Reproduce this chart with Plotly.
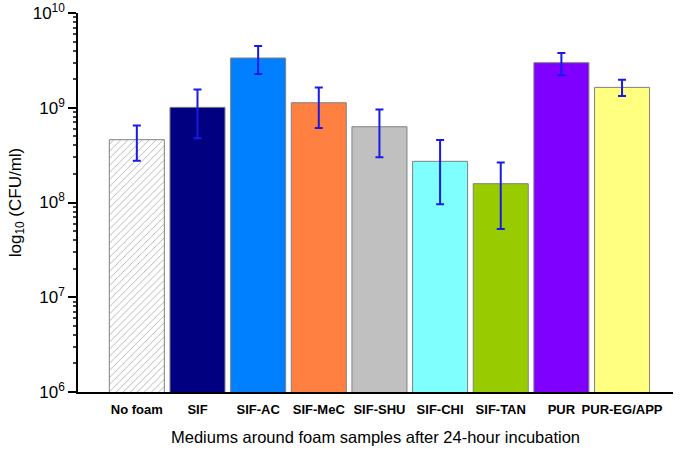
import plotly.graph_objects as go

categories = ["No foam", "SIF", "SIF-AC", "SIF-MeC", "SIF-SHU", "SIF-CHI", "SIF-TAN", "PUR", "PUR-EG/APP"]
cfu_mean = [4.6e8, 1.01e9, 3.35e9, 1.13e9, 6.3e8, 2.72e8, 1.58e8, 2.99e9, 1.64e9]
cfu_upper = [6.5e8, 1.56e9, 4.48e9, 1.64e9, 9.6e8, 4.57e8, 2.65e8, 3.79e9, 1.98e9]
cfu_lower = [2.76e8, 4.76e8, 2.27e9, 6.1e8, 3.0e8, 9.6e7, 5.25e7, 2.2e9, 1.33e9]
bar_colors = ["white", "#000080", "#0080FF", "#FF8040", "#C0C0C0", "#80FFFF", "#99CC00", "#8000FF", "#FFFF80"]
pattern_shapes = ["/", "", "", "", "", "", "", "", ""]
ytick_vals = [1e6, 1e7, 1e8, 1e9, 1e10]
ytick_text = ["10<sup>6</sup>", "10<sup>7</sup>", "10<sup>8</sup>", "10<sup>9</sup>", "10<sup>10</sup>"]

err_plus = [u - m for u, m in zip(cfu_upper, cfu_mean)]
err_minus = [m - l for m, l in zip(cfu_mean, cfu_lower)]

fig = go.Figure()
fig.add_trace(go.Bar(
    x=list(range(len(categories))),
    y=cfu_mean,
    marker=dict(
        color=bar_colors,
        line=dict(color="#808080", width=1),
        pattern=dict(shape=pattern_shapes, fgcolor="#5a5a5a", bgcolor="white", size=5, solidity=0.15),
    ),
    error_y=dict(type="data", symmetric=False, array=err_plus, arrayminus=err_minus,
                 color="#1a1aE6", thickness=2, width=4),
))

fig.update_layout(
    width=685, height=449,
    margin=dict(l=78, r=12, t=13, b=57),
    paper_bgcolor="white", plot_bgcolor="white",
    bargap=0.093,
    showlegend=False,
    font=dict(family="Liberation Sans, Arial, sans-serif", color="black"),
    xaxis=dict(
        range=[-0.97, 8.84],
        automargin=False,
        showline=True, linecolor="black", linewidth=1.5,
        ticks="", showgrid=False, zeroline=False,
        ticklabelstandoff=5,
        tickfont=dict(size=13, family="Liberation Sans, Arial, sans-serif"),
        title=dict(text="Mediums around foam samples after 24-hour incubation",
                   font=dict(size=16.5), standoff=15),
        tickvals=list(range(len(categories))),
        ticktext=["<b>" + c + "</b>" for c in categories],
    ),
    yaxis=dict(
        type="log",
        range=[6, 10],
        automargin=False,
        ticklabeloverflow="allow",
        showline=True, linecolor="black", linewidth=1.5,
        ticks="outside", ticklen=8, tickwidth=1.5, tickcolor="black",
        tickvals=ytick_vals, ticktext=ytick_text,
        minor=dict(ticks="outside", ticklen=3, tickcolor="#444", dtick="D1"),
        showgrid=False, zeroline=False,
        tickfont=dict(size=17),
        title=dict(text="log<sub>10</sub> (CFU/ml)", font=dict(size=17), standoff=7),
    ),
)

fig.write_html("out.html", config={"displayModeBar": False},
               post_script="document.body.style.margin='0';")
